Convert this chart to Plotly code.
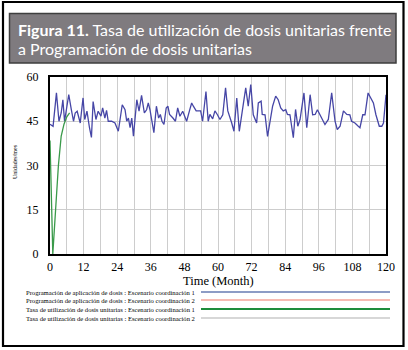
import plotly.graph_objects as go

# ---------------- data ----------------
blue_t = [0, 1.1, 2.3, 3.2, 4.0, 4.6, 5.2, 5.7, 6.7, 7.6, 8.4, 9.0, 9.7, 10.8, 11.8, 12.4, 13.2, 14.1,
          14.8, 15.4, 16.4, 17.2, 18.2, 18.8, 19.6, 20.2, 20.8, 22.0, 23.2,
          24.4, 25.8, 26.8, 27.4, 28.0, 28.6, 29.2, 29.8, 31.0, 31.8, 32.7, 33.7, 34.5, 35.1, 35.7,
          36.3, 37.1, 38.0, 38.8, 39.4, 40.0, 40.7, 41.5, 42.1, 42.7, 43.9, 44.8, 45.6, 46.4, 47.4,
          48.8, 49.8, 50.6, 51.2, 52.2, 53.0, 53.8, 54.5, 55.7, 56.5, 57.1, 58.1, 58.9, 59.8, 60.7,
          61.7, 62.7, 63.5, 64.3, 64.9, 65.7, 66.7, 67.6, 68.5, 69.0, 69.9, 70.8, 71.7, 72.6, 73.2,
          73.8, 74.4, 75.4, 75.8, 76.8, 77.7, 78.6, 79.5, 80.6, 81.5, 82.4, 83.3, 84.2, 84.8, 85.7,
          86.9, 87.7, 88.5, 89.3, 89.9, 90.7, 91.7, 92.9, 93.8, 94.7, 95.5, 96.4, 97.4, 98.2, 99.4,
          100.6, 101.8, 102.6, 103.6, 104.8, 106.0, 107.1, 107.7, 108.9, 110.1, 110.7, 111.7, 112.5,
          113.6, 114.5, 115.5, 116.4, 117.6, 118.5, 119.1, 120]
blue_v = [44.0, 43.3, 54.6, 45.0, 47.8, 52.3, 45.0, 48.4, 54.0, 49.0, 45.0, 47.8, 48.4, 44.4, 52.9, 45.6, 48.4, 42.8,
          39.5, 51.7, 45.6, 48.4, 46.7, 49.5, 46.1, 48.7, 45.0, 45.0, 44.4,
          41.6, 50.6, 48.9, 45.0, 46.1, 42.8, 46.1, 39.9, 52.3, 48.4, 53.8, 47.8, 48.9, 51.2, 48.9,
          45.0, 41.1, 50.1, 46.1, 47.3, 45.0, 43.9, 49.5, 50.1, 47.3, 46.1, 45.0, 49.5, 46.7, 48.4,
          45.0, 48.5, 51.2, 50.1, 48.5, 48.5, 48.5, 45.0, 55.1, 45.0, 47.3, 45.8, 48.5, 47.2, 45.6,
          47.2, 56.3, 48.5, 45.6, 44.4, 41.6, 52.9, 41.6, 47.2, 50.1, 56.3, 50.1, 57.4, 47.2, 45.6,
          44.4, 51.2, 51.8, 47.3, 47.2, 39.9, 45.6, 50.1, 53.5, 52.3, 49.5, 48.5, 48.9, 47.3, 47.2,
          39.4, 49.0, 43.3, 45.6, 49.0, 54.6, 42.8, 54.0, 47.2, 47.3, 48.9, 47.2, 45.6, 43.9, 45.6,
          54.6, 45.0, 42.2, 43.3, 48.5, 47.3, 47.2, 45.0, 44.4, 43.3, 42.8, 47.2, 47.2,
          54.6, 52.9, 51.2, 47.2, 43.3, 43.3, 44.4, 54.0]

green_t = [0, 1, 2, 3, 4, 5, 6, 7]
green_v = [38.5, 0, 15, 30, 40, 44, 46.5, 47.8]

x_ticks = [0, 12, 24, 36, 48, 60, 72, 84, 96, 108, 120]
y_ticks = [0, 15, 30, 45, 60]

legend_labels = [
    "Programación de aplicación de dosis : Escenario coordinación 1",
    "Programación de aplicación de dosis : Escenario coordinación 2",
    "Tasa de utilización de dosis unitarias : Escenario coordinación 1",
    "Tasa de utilización de dosis unitarias : Escenario coordinación 2",
]

title_bold = "Figura 11."
title_rest1 = " Tasa de utilización de dosis unitarias frente"
title_line2 = "a Programación de dosis unitarias"

# ---------------- layout helpers ----------------
W, H = 408, 350
L, R, T, B = 50, 22, 77, 96
PW, PH = W - L - R, H - T - B


def xp(px):
    return (px - L) / PW


def yp(py):
    return (H - B - py) / PH


SERIF = "Liberation Serif, Times New Roman, serif"

fig = go.Figure()
fig.add_trace(go.Scatter(x=blue_t, y=blue_v, mode="lines",
                         line=dict(color="#4646a6", width=1.3), showlegend=False))
fig.add_trace(go.Scatter(x=green_t, y=green_v, mode="lines",
                         line=dict(color="#3a9a4a", width=1.3), showlegend=False))

shapes = []
annotations = []

# outer frame
shapes.append(dict(type="rect", xref="paper", yref="paper",
                   x0=xp(3), x1=xp(403.5), y0=yp(346), y1=yp(2),
                   line=dict(color="black", width=2.2), fillcolor="rgba(0,0,0,0)", layer="above"))
# title box
shapes.append(dict(type="rect", xref="paper", yref="paper",
                   x0=xp(9.5), x1=xp(396), y0=yp(63), y1=yp(13.5),
                   line=dict(color="#3e3e3e", width=1.5), fillcolor="#7f7b7f", layer="below"))

annotations.append(dict(xref="paper", yref="paper", x=xp(16), y=yp(29), xanchor="left", yanchor="middle",
                        text="<b>" + title_bold + "</b>" + title_rest1, showarrow=False,
                        font=dict(family="Lato, sans-serif", size=16, color="white")))
annotations.append(dict(xref="paper", yref="paper", x=xp(16), y=yp(48), xanchor="left", yanchor="middle",
                        text=title_line2, showarrow=False,
                        font=dict(family="Lato, sans-serif", size=16, color="white")))

# axis titles
annotations.append(dict(xref="paper", yref="paper", x=xp(218), y=yp(281), xanchor="center", yanchor="middle",
                        text="Time (Month)", showarrow=False,
                        font=dict(family=SERIF, size=12.5, color="black")))
annotations.append(dict(xref="paper", yref="paper", x=xp(15), y=yp(162), xanchor="center", yanchor="middle",
                        text="Unidades/mes", textangle=-90, showarrow=False,
                        font=dict(family=SERIF, size=6, color="black")))

# legend
leg_colors = ["#1c3a8c", "#f07868", "#1e8c3c", "#b0b0b0"]
leg_widths = [1.2, 1.2, 2, 1.2]
leg_rows = [292, 300, 309, 318]
for lab, col, wd, ry in zip(legend_labels, leg_colors, leg_widths, leg_rows):
    annotations.append(dict(xref="paper", yref="paper", x=xp(197), y=yp(ry), xanchor="right", yanchor="middle",
                            text=lab, showarrow=False,
                            font=dict(family=SERIF, size=6.6, color="black")))
    shapes.append(dict(type="line", xref="paper", yref="paper",
                       x0=xp(201), x1=xp(390), y0=yp(ry), y1=yp(ry),
                       line=dict(color=col, width=wd)))

fig.update_layout(
    width=W, height=H,
    margin=dict(l=L, r=R, t=T, b=B, autoexpand=False),
    paper_bgcolor="white", plot_bgcolor="white",
    shapes=shapes, annotations=annotations,
    showlegend=False,
)
fig.update_xaxes(range=[0, 120], tickvals=x_ticks, showgrid=True, gridcolor="#cdcdcd", gridwidth=1,
                 minor=dict(dtick=6, tick0=0, showgrid=True, gridcolor="#cdcdcd", gridwidth=1),
                 showline=True, linecolor="black", linewidth=2, mirror=True, zeroline=False,
                 ticks="", ticklabelstandoff=1,
                 tickfont=dict(family=SERIF, size=12, color="black"))
fig.update_yaxes(range=[0, 60], tickvals=y_ticks, showgrid=True, gridcolor="#cdcdcd", gridwidth=1,
                 showline=True, linecolor="black", linewidth=2, mirror=True, zeroline=False,
                 ticks="", ticklabelstandoff=7,
                 tickfont=dict(family=SERIF, size=12, color="black"))

fig.write_html("out.html", config={"displayModeBar": False},
               post_script="document.body.style.margin='0';document.body.style.padding='0';")
